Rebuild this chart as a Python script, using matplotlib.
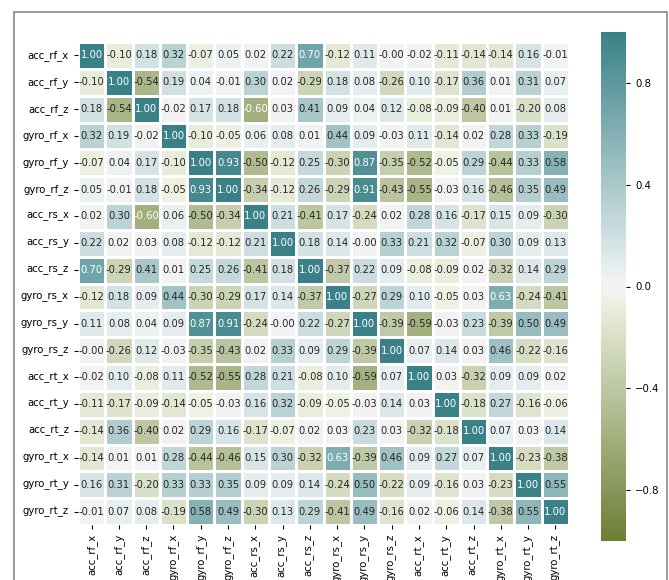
import numpy as np
import matplotlib
matplotlib.use("Agg")
import matplotlib.pyplot as plt
import seaborn as sns
from matplotlib.patches import Rectangle

features = ["acc_rf_x", "acc_rf_y", "acc_rf_z", "gyro_rf_x", "gyro_rf_y", "gyro_rf_z",
            "acc_rs_x", "acc_rs_y", "acc_rs_z", "gyro_rs_x", "gyro_rs_y", "gyro_rs_z",
            "acc_rt_x", "acc_rt_y", "acc_rt_z", "gyro_rt_x", "gyro_rt_y", "gyro_rt_z"]

corr_acc_rf_x  = [1.00, -0.10, 0.18, 0.32, -0.07, 0.05, 0.02, 0.22, 0.70, -0.12, 0.11, -0.002, -0.02, -0.11, -0.14, -0.14, 0.16, -0.01]
corr_acc_rf_y  = [-0.10, 1.00, -0.54, 0.19, 0.04, -0.01, 0.30, 0.02, -0.29, 0.18, 0.08, -0.26, 0.10, -0.17, 0.36, 0.01, 0.31, 0.07]
corr_acc_rf_z  = [0.18, -0.54, 1.00, -0.02, 0.17, 0.18, -0.60, 0.03, 0.41, 0.09, 0.04, 0.12, -0.08, -0.09, -0.40, 0.01, -0.20, 0.08]
corr_gyro_rf_x = [0.32, 0.19, -0.02, 1.00, -0.10, -0.05, 0.06, 0.08, 0.01, 0.44, 0.09, -0.03, 0.11, -0.14, 0.02, 0.28, 0.33, -0.19]
corr_gyro_rf_y = [-0.07, 0.04, 0.17, -0.10, 1.00, 0.93, -0.50, -0.12, 0.25, -0.30, 0.87, -0.35, -0.52, -0.05, 0.29, -0.44, 0.33, 0.58]
corr_gyro_rf_z = [0.05, -0.01, 0.18, -0.05, 0.93, 1.00, -0.34, -0.12, 0.26, -0.29, 0.91, -0.43, -0.55, -0.03, 0.16, -0.46, 0.35, 0.49]
corr_acc_rs_x  = [0.02, 0.30, -0.60, 0.06, -0.50, -0.34, 1.00, 0.21, -0.41, 0.17, -0.24, 0.02, 0.28, 0.16, -0.17, 0.15, 0.09, -0.30]
corr_acc_rs_y  = [0.22, 0.02, 0.03, 0.08, -0.12, -0.12, 0.21, 1.00, 0.18, 0.14, -0.002, 0.33, 0.21, 0.32, -0.07, 0.30, 0.09, 0.13]
corr_acc_rs_z  = [0.70, -0.29, 0.41, 0.01, 0.25, 0.26, -0.41, 0.18, 1.00, -0.37, 0.22, 0.09, -0.08, -0.09, 0.02, -0.32, 0.14, 0.29]
corr_gyro_rs_x = [-0.12, 0.18, 0.09, 0.44, -0.30, -0.29, 0.17, 0.14, -0.37, 1.00, -0.27, 0.29, 0.10, -0.05, 0.03, 0.63, -0.24, -0.41]
corr_gyro_rs_y = [0.11, 0.08, 0.04, 0.09, 0.87, 0.91, -0.24, -0.002, 0.22, -0.27, 1.00, -0.39, -0.59, -0.03, 0.23, -0.39, 0.50, 0.49]
corr_gyro_rs_z = [-0.002, -0.26, 0.12, -0.03, -0.35, -0.43, 0.02, 0.33, 0.09, 0.29, -0.39, 1.00, 0.07, 0.14, 0.03, 0.46, -0.22, -0.16]
corr_acc_rt_x  = [-0.02, 0.10, -0.08, 0.11, -0.52, -0.55, 0.28, 0.21, -0.08, 0.10, -0.59, 0.07, 1.00, 0.03, -0.32, 0.09, 0.09, 0.02]
corr_acc_rt_y  = [-0.11, -0.17, -0.09, -0.14, -0.05, -0.03, 0.16, 0.32, -0.09, -0.05, -0.03, 0.14, 0.03, 1.00, -0.18, 0.27, -0.16, -0.06]
corr_acc_rt_z  = [-0.14, 0.36, -0.40, 0.02, 0.29, 0.16, -0.17, -0.07, 0.02, 0.03, 0.23, 0.03, -0.32, -0.18, 1.00, 0.07, 0.03, 0.14]
corr_gyro_rt_x = [-0.14, 0.01, 0.01, 0.28, -0.44, -0.46, 0.15, 0.30, -0.32, 0.63, -0.39, 0.46, 0.09, 0.27, 0.07, 1.00, -0.23, -0.38]
corr_gyro_rt_y = [0.16, 0.31, -0.20, 0.33, 0.33, 0.35, 0.09, 0.09, 0.14, -0.24, 0.50, -0.22, 0.09, -0.16, 0.03, -0.23, 1.00, 0.55]
corr_gyro_rt_z = [-0.01, 0.07, 0.08, -0.19, 0.58, 0.49, -0.30, 0.13, 0.29, -0.41, 0.49, -0.16, 0.02, -0.06, 0.14, -0.38, 0.55, 1.00]

corr = np.array([corr_acc_rf_x, corr_acc_rf_y, corr_acc_rf_z, corr_gyro_rf_x, corr_gyro_rf_y, corr_gyro_rf_z,
                 corr_acc_rs_x, corr_acc_rs_y, corr_acc_rs_z, corr_gyro_rs_x, corr_gyro_rs_y, corr_gyro_rs_z,
                 corr_acc_rt_x, corr_acc_rt_y, corr_acc_rt_z, corr_gyro_rt_x, corr_gyro_rt_y, corr_gyro_rt_z])

cmap = sns.diverging_palette(100, 200, s=78, l=50, sep=10, as_cmap=True)

fig = plt.figure(figsize=(6.69, 5.80), dpi=100)
ax = fig.add_axes([78 / 669, 1 - 525 / 580, 491 / 669, 483 / 580])
cax = fig.add_axes([601 / 669, 1 - 541 / 580, 25 / 669, 509 / 580])

sns.heatmap(corr, ax=ax, cbar_ax=cax, cmap=cmap, vmin=-1, vmax=1,
            annot=True, fmt=".2f", annot_kws={"size": 7.2},
            linewidths=0.8, linecolor="white",
            xticklabels=features, yticklabels=features)
ax.set_aspect("auto")

# light text on the strongest correlations, dark text elsewhere
for txt, val in zip(ax.texts, corr.ravel()):
    txt.set_color("white" if abs(val) >= 0.6 else "#262626")

ax.tick_params(axis="both", labelsize=7.3, length=3, width=0.8)
ax.set_xticklabels(features, rotation=90)
ax.set_yticklabels(features, rotation=0)

cax.set_yticks([-0.8, -0.4, 0.0, 0.4, 0.8])
cax.tick_params(labelsize=7.3, length=3, width=0.8)
for s in cax.spines.values():
    s.set_visible(False)

fig.patches.append(Rectangle((14 / 669, -0.1), (667 - 14) / 669, 1.1 - 12 / 580,
                             transform=fig.transFigure, fill=False,
                             edgecolor="#888888", linewidth=1.2))

fig.savefig("out.png", dpi=100)
